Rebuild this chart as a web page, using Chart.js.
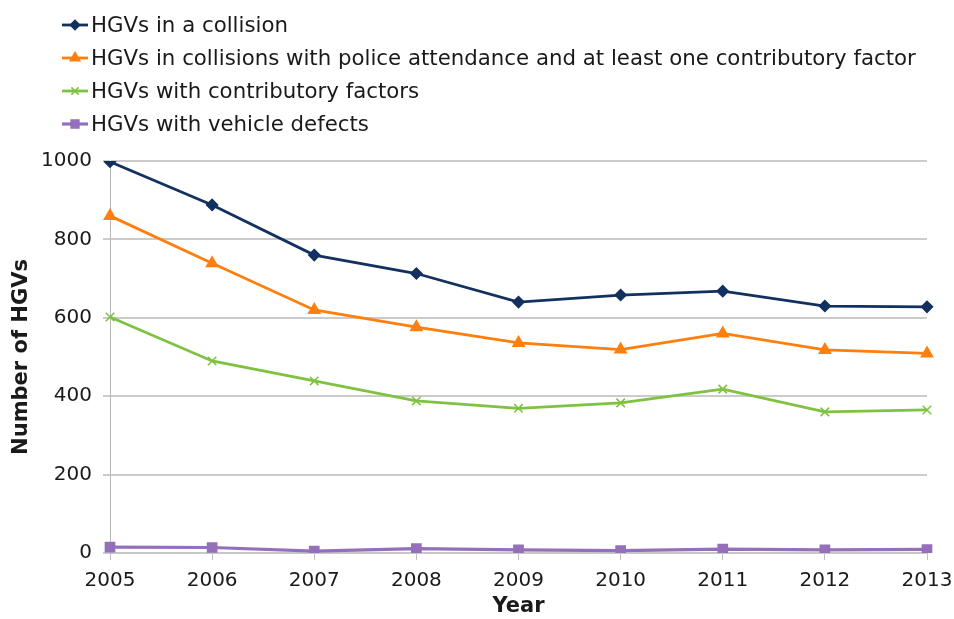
<!DOCTYPE html>
<html>
<head>
<meta charset="utf-8">
<script src="https://cdn.jsdelivr.net/npm/chart.js@4.4.0/dist/chart.umd.min.js"></script>
<style>
html,body{margin:0;padding:0;background:#fff;}
#wrap{width:954px;height:619px;position:relative;}
</style>
</head>
<body>
<div id="wrap"><canvas id="c" width="954" height="619"></canvas></div>
<script>
const years = ['2005','2006','2007','2008','2009','2010','2011','2012','2013'];
const collision = [998, 888, 760, 713, 640, 658, 668, 630, 628];
const policeFactor = [860, 739, 620, 576, 536, 519, 560, 518, 509];
const contributory = [602, 490, 439, 388, 369, 383, 418, 360, 365];
const defects = [15, 14, 5, 11, 8, 6, 10, 8, 9];
const seriesLabels = [
  'HGVs in a collision',
  'HGVs in collisions with police attendance and at least one contributory factor',
  'HGVs with contributory factors',
  'HGVs with vehicle defects'
];
const yTicks = [0, 200, 400, 600, 800, 1000];

const FONT = '"DejaVu Sans", Verdana, sans-serif';

const legendPlugin = {
  id: 'customLegend',
  afterDraw(chart) {
    const ctx = chart.ctx;
    chart.data.datasets.forEach((ds, i) => {
      const y = 25 + 33 * i;
      ctx.save();
      ctx.strokeStyle = ds.borderColor;
      ctx.lineWidth = ds.borderWidth;
      ctx.beginPath();
      ctx.moveTo(62, y);
      ctx.lineTo(88, y);
      ctx.stroke();
      ctx.fillStyle = ds.borderColor;
      ctx.strokeStyle = ds.borderColor;
      ctx.lineWidth = 1.5;
      Chart.helpers.drawPoint(ctx, {
        pointStyle: ds.pointStyle,
        radius: ds.pointRadius * 0.85,
        rotation: 0,
        borderWidth: 1.5
      }, 75, y);
      ctx.restore();
      ctx.save();
      ctx.fillStyle = '#1a1a1a';
      ctx.font = '21.3px ' + FONT;
      ctx.textAlign = 'left';
      ctx.textBaseline = 'middle';
      ctx.fillText(ds.label, 91, y + 1);
      ctx.restore();
    });
  }
};

function mk(label, data, color, style, r, w) {
  return {
    label, data,
    borderColor: color,
    backgroundColor: color,
    pointBackgroundColor: color,
    pointBorderColor: color,
    borderWidth: w,
    pointStyle: style,
    pointRadius: r,
    pointBorderWidth: 1.5,
    tension: 0,
    fill: false
  };
}

new Chart(document.getElementById('c'), {
  type: 'line',
  data: {
    labels: years,
    datasets: [
      mk(seriesLabels[0], collision, '#12315f', 'rectRot', 5.5, 2.8),
      mk(seriesLabels[1], policeFactor, '#ff7f0e', 'triangle', 6.5, 2.8),
      mk(seriesLabels[2], contributory, '#7fc241', 'crossRot', 6, 2.8),
      mk(seriesLabels[3], defects, '#9470bb', 'rect', 6.5, 3.2)
    ]
  },
  options: {
    responsive: false,
    animation: false,
    devicePixelRatio: 1,
    layout: { padding: { top: 161, right: 27, left: 0, bottom: 0 } },
    plugins: {
      legend: { display: false },
      tooltip: { enabled: false }
    },
    scales: {
      x: {
        offset: false,
        grid: { drawOnChartArea: false, drawTicks: true, tickLength: 7, color: '#c0c0c0', lineWidth: 1 },
        border: { display: true, color: '#c8c8c8', width: 2 },
        ticks: { color: '#1a1a1a', font: { family: FONT, size: 20 }, padding: 9, maxRotation: 0, autoSkip: false },
        title: { display: true, text: 'Year', color: '#1a1a1a', font: { family: FONT, size: 21, weight: 'bold' }, padding: { top: 0, bottom: 0 } },
        afterFit(scale) { scale.height = 619 - 553; scale.paddingLeft = 0; scale.paddingRight = 0; }
      },
      y: {
        min: 0, max: 1000,
        afterBuildTicks(scale) { scale.ticks = yTicks.map(v => ({ value: v })); },
        grid: { color: '#cbcbcb', lineWidth: 2, tickLength: 7, drawTicks: true },
        border: { display: true, color: '#b8b8b8', width: 1 },
        ticks: { color: '#1a1a1a', font: { family: FONT, size: 20 }, padding: 11, callback: v => String(v) },
        title: { display: true, text: 'Number of HGVs', color: '#1a1a1a', font: { family: FONT, size: 21, weight: 'bold' }, padding: { top: 9, bottom: 0 } },
        afterFit(scale) { scale.width = 110; scale.paddingTop = 0; scale.paddingBottom = 0; }
      }
    }
  },
  plugins: [legendPlugin]
});
</script>
</body>
</html>
